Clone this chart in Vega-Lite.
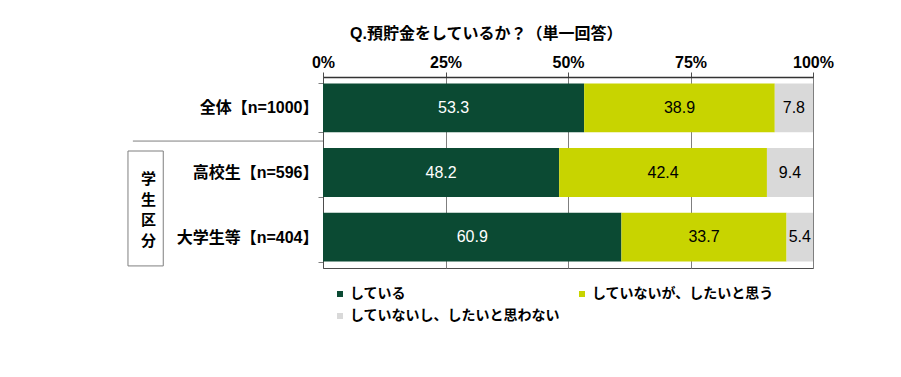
{
  "$schema": "https://vega.github.io/schema/vega-lite/v6.json",
  "width": 490,
  "height": 191,
  "autosize": {"type": "none"},
  "padding": {"left": 323, "top": 77, "right": 88, "bottom": 109},
  "background": "white",
  "title": {
    "text": "Q.預貯金をしているか？（単一回答）",
    "anchor": "start",
    "frame": "group",
    "dx": 27,
    "offset": 12,
    "font": "Liberation Sans, Noto Sans CJK JP",
    "fontSize": 16,
    "fontWeight": "bold",
    "color": "black"
  },
  "config": {
    "view": {"stroke": "#4d4d4d", "strokeWidth": 1}
  },
  "layer": [
    {
      "data": {
        "values": [
          {"cat": "全体【n=1000】", "resp": "している", "v": 53.3, "k": 1},
          {"cat": "全体【n=1000】", "resp": "していないが、したいと思う", "v": 38.9, "k": 2},
          {"cat": "全体【n=1000】", "resp": "していないし、したいと思わない", "v": 7.8, "k": 3},
          {"cat": "高校生【n=596】", "resp": "している", "v": 48.2, "k": 1},
          {"cat": "高校生【n=596】", "resp": "していないが、したいと思う", "v": 42.4, "k": 2},
          {"cat": "高校生【n=596】", "resp": "していないし、したいと思わない", "v": 9.4, "k": 3},
          {"cat": "大学生等【n=404】", "resp": "している", "v": 60.9, "k": 1},
          {"cat": "大学生等【n=404】", "resp": "していないが、したいと思う", "v": 33.7, "k": 2},
          {"cat": "大学生等【n=404】", "resp": "していないし、したいと思わない", "v": 5.4, "k": 3}
        ]
      },
      "layer": [
        {
          "mark": {"type": "bar"},
          "encoding": {
            "y": {
              "field": "cat",
              "type": "nominal",
              "sort": null,
              "scale": {
                "domain": ["全体【n=1000】", "高校生【n=596】", "大学生等【n=404】"],
                "paddingInner": 0.246,
                "paddingOuter": 0.1
              },
              "axis": {
                "title": null,
                "labelFont": "Liberation Sans, Noto Sans CJK JP",
                "labelFontSize": 16,
                "labelFontWeight": "bold",
                "labelColor": "black",
                "labelPadding": 0,
                "tickBand": "extent",
                "tickSize": 5,
                "tickColor": "#7f7f7f",
                "domainColor": "#4d4d4d",
                "labelLimit": 300
              }
            },
            "x": {
              "field": "v",
              "type": "quantitative",
              "stack": "zero",
              "scale": {"domain": [0, 100], "nice": false},
              "axis": {
                "orient": "top",
                "title": null,
                "values": [0, 25, 50, 75, 100],
                "labelExpr": "datum.value + '%'",
                "labelFlush": false,
                "labelFont": "Liberation Sans",
                "labelFontSize": 16,
                "labelFontWeight": "bold",
                "labelColor": "black",
                "labelPadding": 2,
                "tickSize": 5,
                "tickColor": "#4d4d4d",
                "domainColor": "#333333",
                "domainWidth": 1.5,
                "grid": true,
                "gridColor": "#7f7f7f",
                "gridWidth": 1
              }
            },
            "color": {
              "field": "resp",
              "type": "nominal",
              "scale": {
                "domain": ["している", "していないが、したいと思う", "していないし、したいと思わない"],
                "range": ["#0b4a33", "#c8d400", "#d9d9d9"]
              },
              "legend": {
                "title": null,
                "orient": "none",
                "legendX": 10,
                "legendY": 210,
                "direction": "horizontal",
                "columns": 2,
                "columnPadding": 15,
                "rowPadding": 8,
                "symbolType": "square",
                "symbolSize": 36,
                "symbolStrokeWidth": 0,
                "labelOffset": 3,
                "labelFont": "Liberation Sans, Noto Sans CJK JP",
                "labelFontSize": 14,
                "labelFontWeight": "bold",
                "labelColor": "black",
                "labelLimit": 400
              }
            },
            "order": {"field": "k"}
          }
        },
        {
          "mark": {"type": "text", "font": "Liberation Sans", "fontSize": 16, "baseline": "middle", "align": "center"},
          "encoding": {
            "y": {"field": "cat", "type": "nominal", "sort": null},
            "x": {"field": "v", "type": "quantitative", "stack": "zero", "bandPosition": 0.5},
            "detail": {"field": "resp"},
            "order": {"field": "k"},
            "text": {"field": "v", "type": "quantitative", "format": ".1f"},
            "color": {
              "condition": {"test": "datum.resp === 'している'", "value": "white"},
              "value": "black"
            }
          }
        }
      ]
    },
    {
      "data": {"values": [{"cat": "高校生【n=596】"}]},
      "mark": {"type": "rule", "color": "#7f7f7f", "strokeWidth": 1},
      "encoding": {
        "x": {"datum": -38.8, "type": "quantitative"},
        "x2": {"datum": 0},
        "y": {"field": "cat", "type": "nominal", "bandPosition": -0.145}
      }
    },
    {
      "data": {"values": [{"a": "高校生【n=596】", "b": "大学生等【n=404】"}]},
      "mark": {"type": "rect", "fill": "white", "fillOpacity": 0, "stroke": "#7f7f7f", "strokeWidth": 1, "y2Offset": -21.5},
      "encoding": {
        "x": {"datum": -39.8, "type": "quantitative"},
        "x2": {"datum": -32.6},
        "y": {"field": "b", "type": "nominal", "bandPosition": 1.09},
        "y2": {"field": "a"}
      }
    },
    {
      "data": {"values": [{"cat": "高校生【n=596】", "t": "学\n生\n区\n分"}]},
      "mark": {
        "type": "text",
        "lineBreak": "\n",
        "lineHeight": 20.7,
        "font": "Noto Sans CJK JP",
        "fontSize": 15,
        "fontWeight": "bold",
        "color": "black",
        "align": "center",
        "baseline": "middle"
      },
      "encoding": {
        "x": {"datum": -35.6, "type": "quantitative"},
        "y": {"field": "cat", "type": "nominal", "bandPosition": 0.63},
        "text": {"field": "t"}
      }
    }
  ]
}
